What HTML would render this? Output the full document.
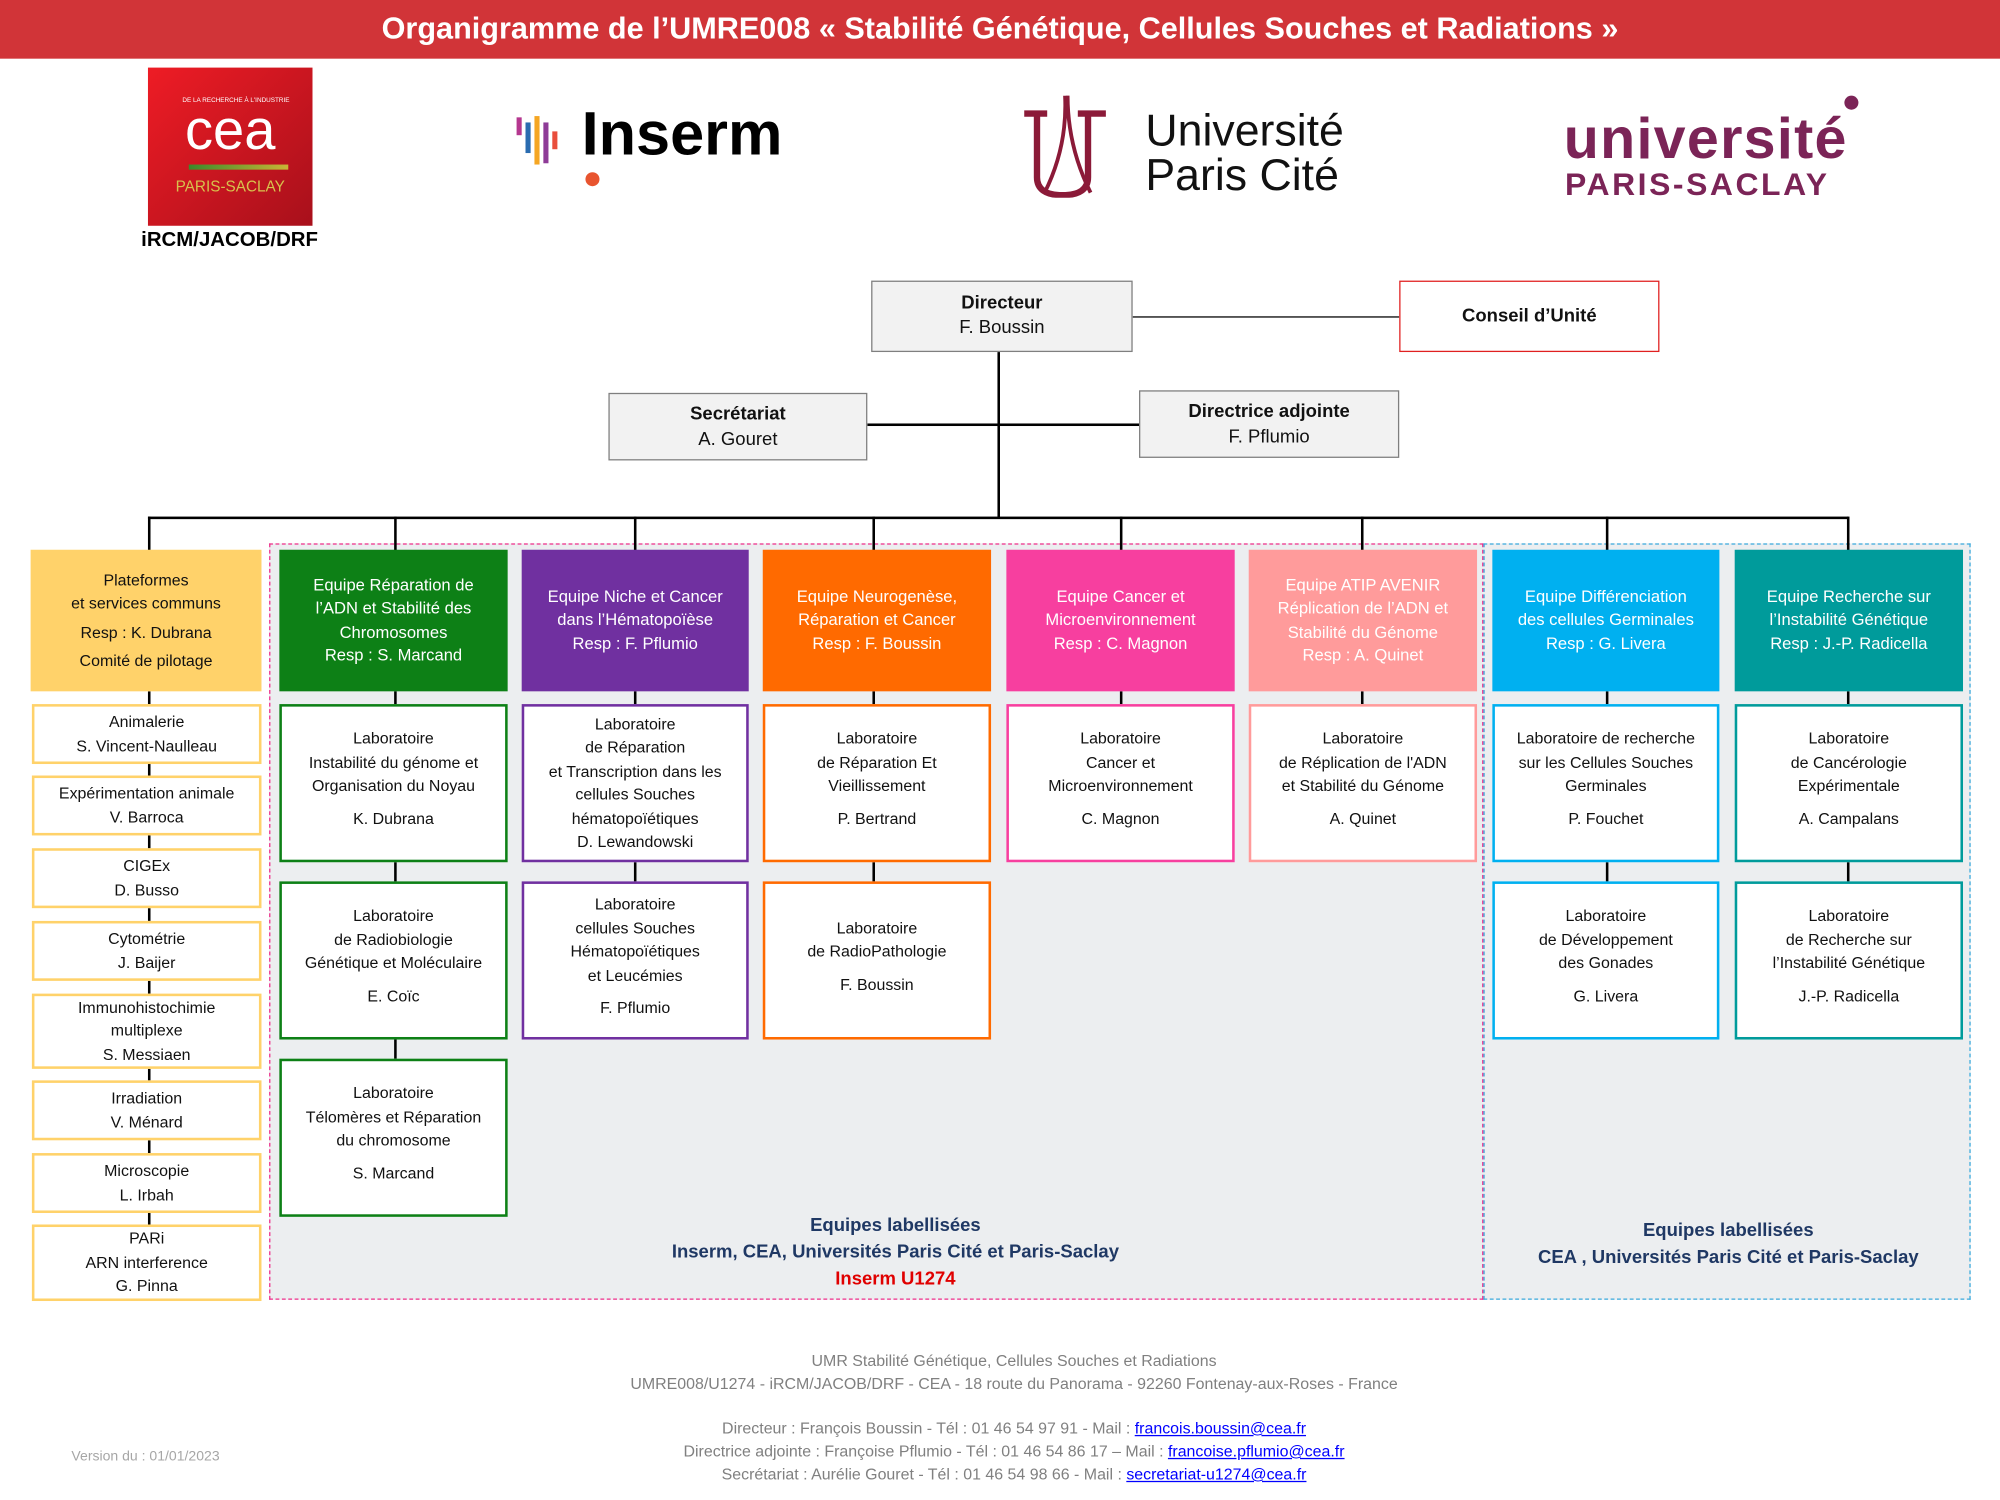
<!DOCTYPE html>
<html><head><meta charset="utf-8">
<style>
html,body{margin:0;padding:0;background:#fff;overflow:hidden}
#w{width:1568px;height:1176px;position:relative;transform:scale(1.27551);transform-origin:0 0;font-family:"Liberation Sans",sans-serif;}
.a{position:absolute;box-sizing:border-box}
.b{position:absolute;box-sizing:border-box;display:flex;align-items:center;justify-content:center;text-align:center;font-size:12.5px;line-height:18.5px;color:#111;background:#fff}
.h{color:#fff;font-size:13px;line-height:18.5px}
.l{position:absolute;background:#000}
.f{position:absolute;left:0;width:1590px;text-align:center;font-size:12.5px;color:#808080;line-height:18px}
.f a{color:#00f;text-decoration:underline}
</style></head><body><div id="w">
<div class="a" style="left:0;top:0;width:1568px;height:46px;background:#d13438;color:#fff;font-weight:bold;font-size:24px;line-height:46px;text-align:center">Organigramme de l’UMRE008 « Stabilité Génétique, Cellules Souches et Radiations »</div>

<!-- logos -->
<div class="a" style="left:116px;top:53px;width:129px;height:124px;background:linear-gradient(135deg,#ee1c25,#a8101b)"></div>
<div class="a" style="left:140px;top:76px;width:90px;text-align:center;color:#fff;font-size:5px">DE LA RECHERCHE À L'INDUSTRIE</div>
<div class="a" style="left:116px;top:78px;width:129px;text-align:center;color:#fff;font-size:44px;line-height:50px;font-weight:300">cea</div>
<div class="a" style="left:148px;top:129px;width:78px;height:4px;background:linear-gradient(90deg,#3a8a2a,#c9b536)"></div>
<div class="a" style="left:116px;top:139px;width:129px;text-align:center;color:#d7c24c;font-size:12px">PARIS-SACLAY</div>
<div class="a" style="left:90px;top:180px;width:180px;text-align:center;font-weight:bold;font-size:16px">iRCM/JACOB/DRF</div>

<div class="a" style="left:405px;top:92px;width:4px;height:14px;background:#b5378f"></div>
<div class="a" style="left:412px;top:96px;width:4px;height:24px;background:#2a6cb0"></div>
<div class="a" style="left:419px;top:91px;width:4px;height:38px;background:#f5a623"></div>
<div class="a" style="left:426px;top:96px;width:4px;height:32px;background:#8e3b97"></div>
<div class="a" style="left:433px;top:103px;width:4px;height:14px;background:#e94e3c"></div>
<div class="a" style="left:456px;top:78px;font-size:48px;font-weight:bold;color:#000">Inserm</div>
<div class="a" style="left:459px;top:135px;width:11px;height:11px;border-radius:50%;background:#e8542f"></div>

<svg class="a" style="left:795px;top:73px" width="80" height="82"><path d="M8 16 h18 M18 16 v50 q0 14 20 14 q20 0 20 -14 v-50 M50 16 h22" stroke="#8b1a38" stroke-width="5" fill="none"/><path d="M40 2 q2 40 -16 76 M42 2 q0 40 18 76" stroke="#8b1a38" stroke-width="3" fill="none"/></svg>
<div class="a" style="left:898px;top:85px;font-size:35px;line-height:35px;color:#111">Université<br>Paris Cité</div>

<div class="a" style="left:1226px;top:86px;font-size:45px;line-height:46px;color:#7b2457;font-weight:bold;letter-spacing:1px">université</div>
<div class="a" style="left:1446px;top:75px;width:11px;height:11px;border-radius:50%;background:#7b2457"></div>
<div class="a" style="left:1227px;top:131px;font-size:25px;color:#7b2457;font-weight:bold;letter-spacing:2px">PARIS-SACLAY</div>

<!-- top hierarchy -->
<div class="l" style="left:888px;top:248px;width:209px;height:1px"></div>
<div class="l" style="left:782px;top:276px;width:1.5px;height:130px"></div>
<div class="l" style="left:680px;top:332px;width:213px;height:1.5px"></div>
<div class="l" style="left:116px;top:405px;width:1333px;height:1.5px"></div>
<div class="b" style="left:683px;top:220px;width:205px;height:56px;background:#f2f2f2;border:1.5px solid #7f7f7f;font-size:14.5px;line-height:19px"><div><b>Directeur</b><br>F. Boussin</div></div>
<div class="b" style="left:1097px;top:220px;width:204px;height:56px;border:1.5px solid #e02020;font-size:14.5px"><b>Conseil d’Unité</b></div>
<div class="b" style="left:477px;top:308px;width:203px;height:53px;background:#f2f2f2;border:1.5px solid #7f7f7f;font-size:14.5px;line-height:20px"><div><b>Secrétariat</b><br>A. Gouret</div></div>
<div class="b" style="left:893px;top:306px;width:204px;height:53px;background:#f2f2f2;border:1.5px solid #7f7f7f;font-size:14.5px;line-height:20px"><div><b>Directrice adjointe</b><br>F. Pflumio</div></div>

<!-- regions -->
<div class="a" style="left:211px;top:426px;width:952px;height:593px;background:#eceef0;border:1.5px dashed #ee2e8a"></div>
<div class="a" style="left:1163px;top:426px;width:382px;height:593px;background:#eceef0;border:1.5px dashed #3aa9dc"></div>

<!-- drops -->
<div class="l" style="left:116px;top:405px;width:1.5px;height:27px"></div>
<div class="l" style="left:309px;top:405px;width:1.5px;height:27px"></div>
<div class="l" style="left:497px;top:405px;width:1.5px;height:27px"></div>
<div class="l" style="left:684px;top:405px;width:1.5px;height:27px"></div>
<div class="l" style="left:878px;top:405px;width:1.5px;height:27px"></div>
<div class="l" style="left:1067px;top:405px;width:1.5px;height:27px"></div>
<div class="l" style="left:1259px;top:405px;width:1.5px;height:27px"></div>
<div class="l" style="left:1448px;top:405px;width:1.5px;height:27px"></div>

<!-- column verticals -->
<div class="l" style="left:116px;top:542px;width:1.5px;height:420px"></div>
<div class="l" style="left:309px;top:542px;width:1.5px;height:290px"></div>
<div class="l" style="left:497px;top:542px;width:1.5px;height:150px"></div>
<div class="l" style="left:684px;top:542px;width:1.5px;height:150px"></div>
<div class="l" style="left:878px;top:542px;width:1.5px;height:12px"></div>
<div class="l" style="left:1067px;top:542px;width:1.5px;height:12px"></div>
<div class="l" style="left:1259px;top:542px;width:1.5px;height:150px"></div>
<div class="l" style="left:1448px;top:542px;width:1.5px;height:150px"></div>

<!-- headers -->
<div class="b" style="left:24px;top:431px;width:181px;height:111px;background:#ffd26a"><div>Plateformes<br>et services communs<br><span style="line-height:26px">Resp : K. Dubrana</span><br>Comité de pilotage</div></div>
<div class="b h" style="left:219px;top:431px;width:179px;height:111px;background:#0d8016;color:#fff"><div>Equipe Réparation de<br>l’ADN et Stabilité des<br>Chromosomes<br>Resp : S. Marcand</div></div>
<div class="b h" style="left:409px;top:431px;width:178px;height:111px;background:#7030a0;color:#fff"><div>Equipe Niche et Cancer<br>dans l’Hématopoïèse<br>Resp : F. Pflumio</div></div>
<div class="b h" style="left:598px;top:431px;width:179px;height:111px;background:#ff6a00;color:#fff"><div>Equipe Neurogenèse,<br>Réparation et Cancer<br>Resp : F. Boussin</div></div>
<div class="b h" style="left:789px;top:431px;width:179px;height:111px;background:#f73f9f;color:#fff"><div>Equipe Cancer et<br>Microenvironnement<br>Resp : C. Magnon</div></div>
<div class="b h" style="left:979px;top:431px;width:179px;height:111px;background:#ff9b9b;color:#fff"><div>Equipe ATIP AVENIR<br>Réplication de l’ADN et<br>Stabilité du Génome<br>Resp : A. Quinet</div></div>
<div class="b h" style="left:1170px;top:431px;width:178px;height:111px;background:#00b0f0;color:#fff"><div>Equipe Différenciation<br>des cellules Germinales<br>Resp : G. Livera</div></div>
<div class="b h" style="left:1360px;top:431px;width:179px;height:111px;background:#009b9b;color:#fff"><div>Equipe Recherche sur<br>l’Instabilité Génétique<br>Resp : J.-P. Radicella</div></div>

<!-- platforms -->
<div class="b" style="left:25px;top:552px;width:180px;height:47px;border:2px solid #ffd26a"><div>Animalerie<br>S. Vincent-Naulleau</div></div>
<div class="b" style="left:25px;top:608px;width:180px;height:47px;border:2px solid #ffd26a"><div>Expérimentation animale<br>V. Barroca</div></div>
<div class="b" style="left:25px;top:665px;width:180px;height:47px;border:2px solid #ffd26a"><div>CIGEx<br>D. Busso</div></div>
<div class="b" style="left:25px;top:722px;width:180px;height:47px;border:2px solid #ffd26a"><div>Cytométrie<br>J. Baijer</div></div>
<div class="b" style="left:25px;top:779px;width:180px;height:59px;border:2px solid #ffd26a"><div>Immunohistochimie<br>multiplexe<br>S. Messiaen</div></div>
<div class="b" style="left:25px;top:847px;width:180px;height:47px;border:2px solid #ffd26a"><div>Irradiation<br>V. Ménard</div></div>
<div class="b" style="left:25px;top:904px;width:180px;height:47px;border:2px solid #ffd26a"><div>Microscopie<br>L. Irbah</div></div>
<div class="b" style="left:25px;top:960px;width:180px;height:60px;border:2px solid #ffd26a"><div>PARi<br>ARN interference<br>G. Pinna</div></div>

<!-- labs -->
<div class="b" style="left:219px;top:552px;width:179px;height:124px;border:2px solid #0d8016"><div>Laboratoire<br>Instabilité du génome et<br>Organisation du Noyau<br><span style="line-height:32px">K. Dubrana</span></div></div>
<div class="b" style="left:219px;top:691px;width:179px;height:124px;border:2px solid #0d8016"><div>Laboratoire<br>de Radiobiologie<br>Génétique et Moléculaire<br><span style="line-height:32px">E. Coïc</span></div></div>
<div class="b" style="left:219px;top:830px;width:179px;height:124px;border:2px solid #0d8016"><div>Laboratoire<br>Télomères et Réparation<br>du chromosome<br><span style="line-height:32px">S. Marcand</span></div></div>

<div class="b" style="left:409px;top:552px;width:178px;height:124px;border:2px solid #7030a0"><div>Laboratoire<br>de Réparation<br>et Transcription dans les<br>cellules Souches<br>hématopoïétiques<br>D. Lewandowski</div></div>
<div class="b" style="left:409px;top:691px;width:178px;height:124px;border:2px solid #7030a0"><div>Laboratoire<br>cellules Souches<br>Hématopoïétiques<br>et Leucémies<br><span style="line-height:32px">F. Pflumio</span></div></div>

<div class="b" style="left:598px;top:552px;width:179px;height:124px;border:2px solid #ff6a00"><div>Laboratoire<br>de Réparation Et<br>Vieillissement<br><span style="line-height:32px">P. Bertrand</span></div></div>
<div class="b" style="left:598px;top:691px;width:179px;height:124px;border:2px solid #ff6a00"><div>Laboratoire<br>de RadioPathologie<br><span style="line-height:32px">F. Boussin</span></div></div>

<div class="b" style="left:789px;top:552px;width:179px;height:124px;border:2px solid #f73f9f"><div>Laboratoire<br>Cancer et<br>Microenvironnement<br><span style="line-height:32px">C. Magnon</span></div></div>
<div class="b" style="left:979px;top:552px;width:179px;height:124px;border:2px solid #ff9b9b"><div>Laboratoire<br>de Réplication de l'ADN<br>et Stabilité du Génome<br><span style="line-height:32px">A. Quinet</span></div></div>

<div class="b" style="left:1170px;top:552px;width:178px;height:124px;border:2px solid #00b0f0"><div>Laboratoire de recherche<br>sur les Cellules Souches<br>Germinales<br><span style="line-height:32px">P. Fouchet</span></div></div>
<div class="b" style="left:1170px;top:691px;width:178px;height:124px;border:2px solid #00b0f0"><div>Laboratoire<br>de Développement<br>des Gonades<br><span style="line-height:32px">G. Livera</span></div></div>
<div class="b" style="left:1360px;top:552px;width:179px;height:124px;border:2px solid #009b9b"><div>Laboratoire<br>de Cancérologie<br>Expérimentale<br><span style="line-height:32px">A. Campalans</span></div></div>
<div class="b" style="left:1360px;top:691px;width:179px;height:124px;border:2px solid #009b9b"><div>Laboratoire<br>de Recherche sur<br>l’Instabilité Génétique<br><span style="line-height:32px">J.-P. Radicella</span></div></div>

<div class="a" style="left:402px;top:951px;width:600px;text-align:center;font-weight:bold;color:#1f3864;font-size:14.5px;line-height:21px">Equipes labellisées<br>Inserm, CEA, Universités Paris Cité et Paris-Saclay<br><span style="color:#e00000">Inserm U1274</span></div>
<div class="a" style="left:1165px;top:955px;width:380px;text-align:center;font-weight:bold;color:#1f3864;font-size:14.5px;line-height:21px">Equipes labellisées<br>CEA , Universités Paris Cité et Paris-Saclay</div>

<div class="f" style="top:1058px">UMR Stabilité Génétique, Cellules Souches et Radiations<br>UMRE008/U1274 - iRCM/JACOB/DRF - CEA - 18 route du Panorama - 92260 Fontenay-aux-Roses - France</div>
<div class="f" style="top:1111px">Directeur : François Boussin - Tél : 01 46 54 97 91 - Mail : <a>francois.boussin@cea.fr</a><br>Directrice adjointe : Françoise Pflumio - Tél : 01 46 54 86 17 – Mail : <a>francoise.pflumio@cea.fr</a><br>Secrétariat : Aurélie Gouret - Tél : 01 46 54 98 66 - Mail : <a>secretariat-u1274@cea.fr</a></div>
<div class="a" style="left:56px;top:1136px;font-size:11px;color:#a6a6a6">Version du : 01/01/2023</div>
</div></body></html>
